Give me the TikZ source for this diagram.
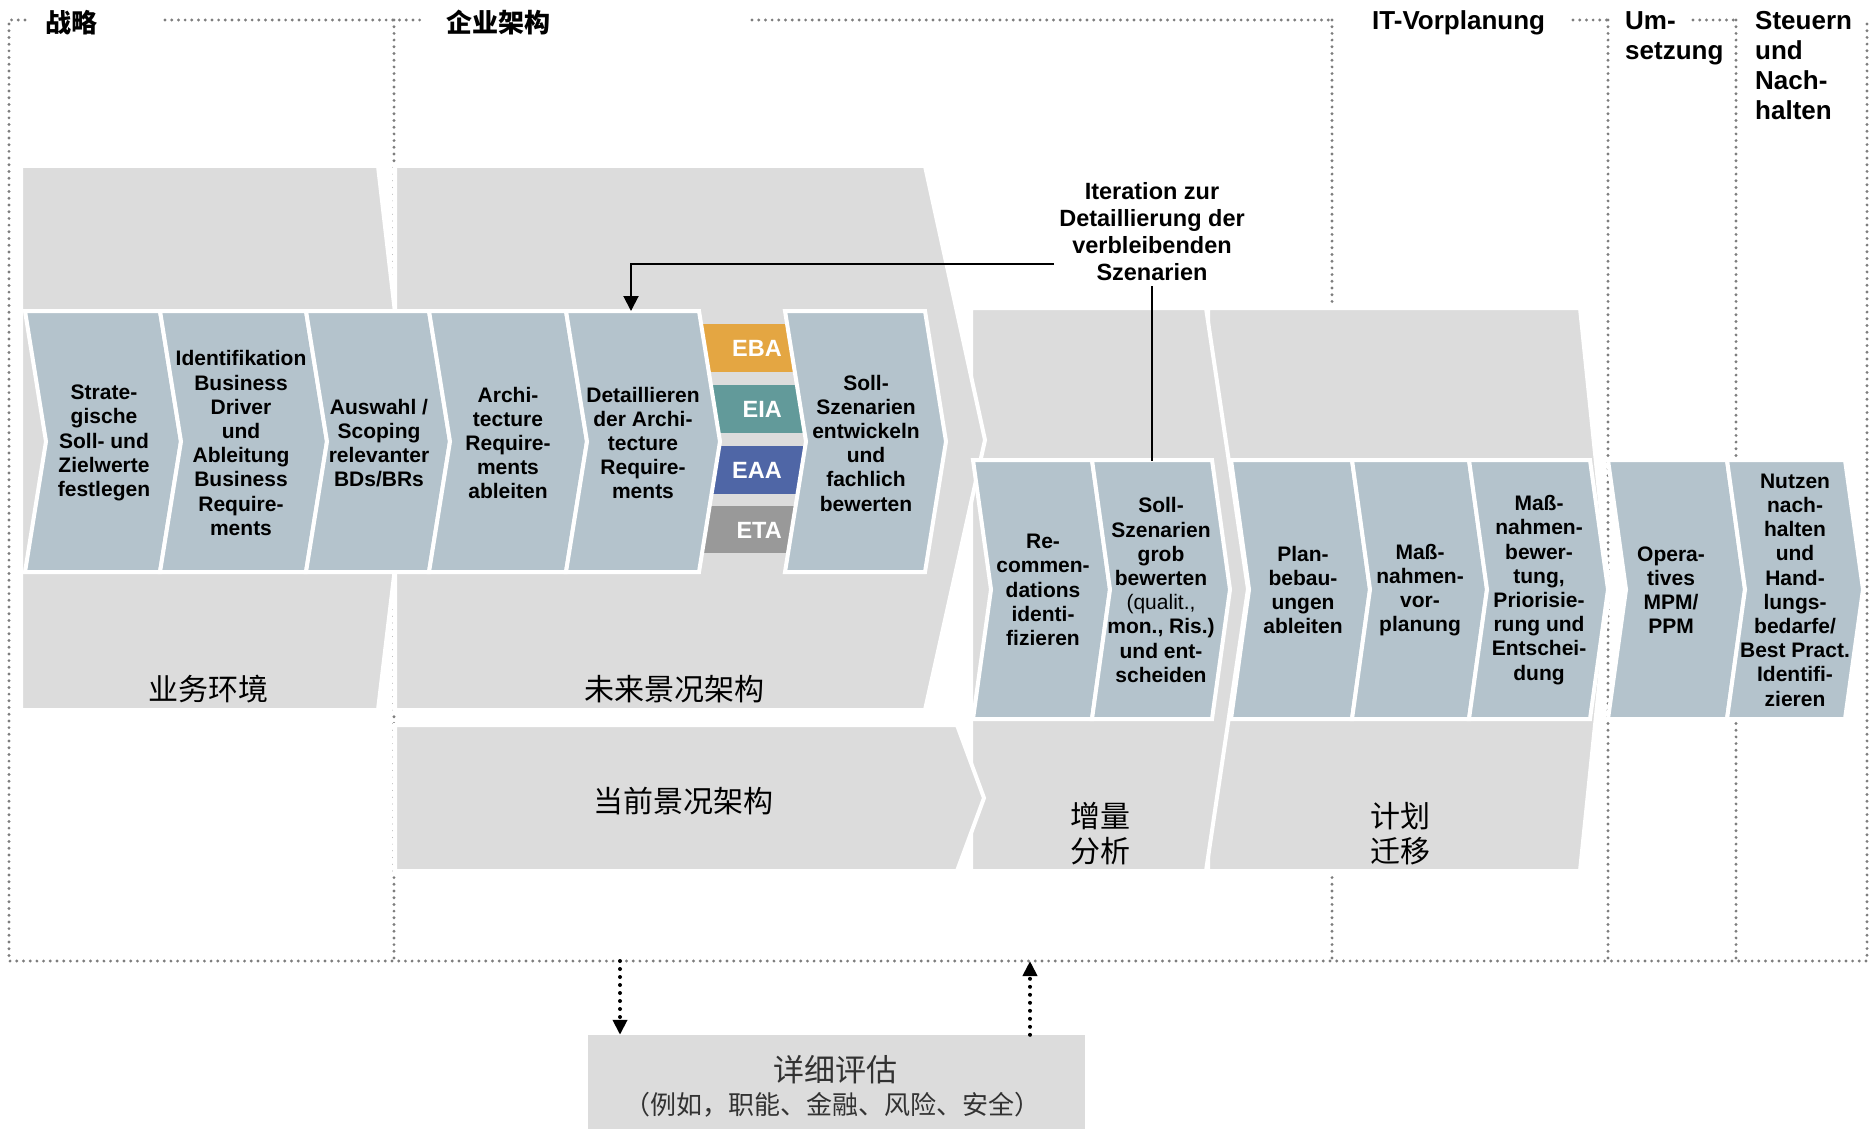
\documentclass[tikz,border=0pt]{standalone}
\usepackage{fontspec}
\setmainfont{Liberation Sans}
\newfontfamily\cjk{Noto Sans CJK SC}
\usetikzlibrary{arrows.meta}
\definecolor{bgrey}{RGB}{220,220,220}
\definecolor{cblue}{RGB}{180,195,204}
\definecolor{ebac}{RGB}{228,166,66}
\definecolor{eiac}{RGB}{98,154,154}
\definecolor{eaac}{RGB}{79,102,166}
\definecolor{etac}{RGB}{153,153,153}
\definecolor{dotc}{RGB}{125,125,125}
\definecolor{evaltxt}{RGB}{50,50,50}
\newcommand\chevpoly[5]{\filldraw[chev] (#1,#3) -- (#2,#3) -- ({#2+#5},{(#3+#4)/2}) -- (#2,#4) -- (#1,#4) -- ({#1+#5},{(#3+#4)/2}) -- cycle;}
\tikzset{
  dotline/.style={draw=dotc, line width=3.2pt, dash pattern=on 0pt off 6.7pt, line cap=round},
  bigshape/.style={fill=bgrey, draw=white, line width=4pt},
  chev/.style={fill=cblue, draw=white, line width=4pt},
  boxtext/.style={align=center, inner sep=0pt, font=\bfseries\fontsize{21}{24.2}\selectfont},
  bartext/.style={anchor=east, inner sep=0pt, text=white, font=\bfseries\fontsize{23.5}{27}\selectfont},
  toplat/.style={anchor=base west, align=left, inner sep=0pt, font=\bfseries\fontsize{26}{30}\selectfont},
  topcjk/.style={anchor=west, inner sep=0pt, font=\cjk\bfseries\fontsize{26}{30}\selectfont},
  biglab/.style={align=center, inner sep=0pt, font=\cjk\fontsize{30}{35}\selectfont},
  conn/.style={draw=black, line width=2pt},
  dotarrow/.style={draw=black, line width=4pt, dash pattern=on 0pt off 8pt, line cap=round, -{Triangle[width=14pt,length=15pt]}},
}
\begin{document}
\begin{tikzpicture}[x=1pt,y=-1pt]
\useasboundingbox (0,0) rectangle (1875,1129);
% dotted frame
\draw[dotline] (25,20) -- (9,20) -- (9,961) -- (1867,961) -- (1867,20);
\draw[dotline] (165,20) -- (426,20);
\draw[dotline] (752,20) -- (1333,20);
\draw[dotline] (1573,20) -- (1609,20);
\draw[dotline] (1693,20) -- (1737,20);
\draw[dotline] (394,20) -- (394,961);
\draw[dotline] (1332,20) -- (1332,961);
\draw[dotline] (1608,20) -- (1608,961);
\draw[dotline] (1736,20) -- (1736,961);
% big grey shapes
\filldraw[bigshape] (1208,308) -- (1580,308) -- (1609,589) -- (1580,871) -- (1208,871) -- cycle;
\filldraw[bigshape] (971,308) -- (1206,308) -- (1248,589) -- (1206,871) -- (971,871) -- cycle;
\filldraw[bigshape] (395,166) -- (925,166) -- (985,440) -- (925,710) -- (395,710) -- cycle;
\filldraw[bigshape] (395,725) -- (957,725) -- (984,798) -- (957,871) -- (395,871) -- cycle;
\filldraw[bigshape] (21,166) -- (378,166) -- (410,442) -- (378,710) -- (21,710) -- cycle;
% EA bars
\fill[ebac] (680,324) rectangle (810,372);
\fill[eiac] (680,385) rectangle (810,433);
\fill[eaac] (680,446) rectangle (810,494);
\fill[etac] (680,506) rectangle (810,553);
% row 1 chevrons
\chevpoly{25}{160}{311}{572}{21}
\chevpoly{160}{306}{311}{572}{21}
\chevpoly{306}{429}{311}{572}{21}
\chevpoly{429}{566}{311}{572}{21}
\chevpoly{566}{699}{311}{572}{21}
\chevpoly{785}{925}{311}{572}{21}
% row 2 chevrons
\chevpoly{973}{1092}{460}{719}{18}
\chevpoly{1092}{1212}{460}{719}{18}
\chevpoly{1231}{1352}{460}{719}{18}
\chevpoly{1352}{1469}{460}{719}{18}
\chevpoly{1469}{1590}{460}{719}{18}
\chevpoly{1608}{1727}{460}{719}{18}
\chevpoly{1727}{1845}{460}{719}{18}
% bar labels
\node[bartext] (eba) at (782,348) {EBA};
\node[bartext] (eia) at (782,409) {EIA};
\node[bartext] (eaa) at (782,470) {EAA};
\node[bartext] (eta) at (782,530) {ETA};
% chevron texts
\node[boxtext] (t1) at (104,443) {Strate-\\gische\\Soll- und\\Zielwerte\\festlegen};
\node[boxtext] (t2) at (241,443) {Identifikation\\Business\\Driver\\und\\Ableitung\\Business\\Require-\\ments};
\node[boxtext] (t3) at (379,443) {Auswahl /\\Scoping\\relevanter\\BDs/BRs};
\node[boxtext] (t4) at (508,443) {Archi-\\tecture\\Require-\\ments\\ableiten};
\node[boxtext] (t5) at (643,443) {Detaillieren\\der Archi-\\tecture\\Require-\\ments};
\node[boxtext] (t6) at (866,443) {Soll-\\Szenarien\\entwickeln\\und\\fachlich\\bewerten};
\node[boxtext] (t7) at (1043,590) {Re-\\commen-\\dations\\identi-\\fizieren};
\node[boxtext] (t8) at (1161,590) {Soll-\\Szenarien\\grob\\bewerten\\\mdseries(qualit.,\\mon., Ris.)\\\bfseries und ent-\\scheiden};
\node[boxtext] (t9) at (1303,590) {Plan-\\bebau-\\ungen\\ableiten};
\node[boxtext] (t10) at (1420,590) {Maß-\\nahmen-\\vor-\\planung};
\node[boxtext] (t11) at (1539,590) {Maß-\\nahmen-\\bewer-\\tung,\\Priorisie-\\rung und\\Entschei-\\dung};
\node[boxtext] (t12) at (1671,590) {Opera-\\tives\\MPM/\\PPM};
\node[boxtext] (t13) at (1795,590) {Nutzen\\nach-\\halten\\und\\Hand-\\lungs-\\bedarfe/\\Best Pract.\\Identifi-\\zieren};
% big shape labels
\node[biglab] (lbiz) at (208,689) {业务环境};
\node[biglab] (lfut) at (674,689) {未来景况架构};
\node[biglab] (lcur) at (683,801) {当前景况架构};
\node[biglab] (linc) at (1100,834) {增量\\分析};
\node[biglab] (lplan) at (1400,834) {计划\\迁移};
% top labels (base anchor = baseline of the last line)
\node[topcjk] (lstrat) at (45,23) {战略};
\node[topcjk] (lea) at (446,23) {企业架构};
\node[toplat] (litv) at (1372,29.5) {IT-Vorplanung};
\node[toplat] (lum) at (1625,59.5) {Um-\\setzung};
\node[toplat] (lst) at (1755,119.5) {Steuern\\und\\Nach-\\halten};
% iteration note and connectors
\node[align=center, inner sep=5pt, font=\bfseries\fontsize{23.5}{27}\selectfont] (iter) at (1152,232) {Iteration zur\\Detaillierung der\\verbleibenden\\Szenarien};
\coordinate (c5top) at (631,311);
\coordinate (c8top) at (1151,461);
\draw[conn, -{Triangle[width=15pt,length=15pt]}] (iter.west |- 0,264) -- (c5top |- 0,264) -- (c5top);
\draw[conn] (iter.south) -- (iter.south |- c8top);
% detailed evaluation box
\node[fill=bgrey, minimum width=497pt, minimum height=100pt, inner sep=0pt] (eval) at (836.5,1085) {};
\node[inner sep=0pt, text=evaltxt, font=\cjk\fontsize{31}{35}\selectfont] (evalt) at (835,1070) {详细评估};
\node[inner sep=0pt, text=evaltxt, font=\cjk\fontsize{26}{30}\selectfont] (evals) at (832,1105) {（例如，职能、金融、风险、安全）};
\coordinate (bl) at (620,961);
\coordinate (br) at (1030,961);
\draw[dotarrow] (bl) -- (bl |- eval.north);
\draw[dotarrow] (br |- eval.north) -- (br);
\end{tikzpicture}
\end{document}
